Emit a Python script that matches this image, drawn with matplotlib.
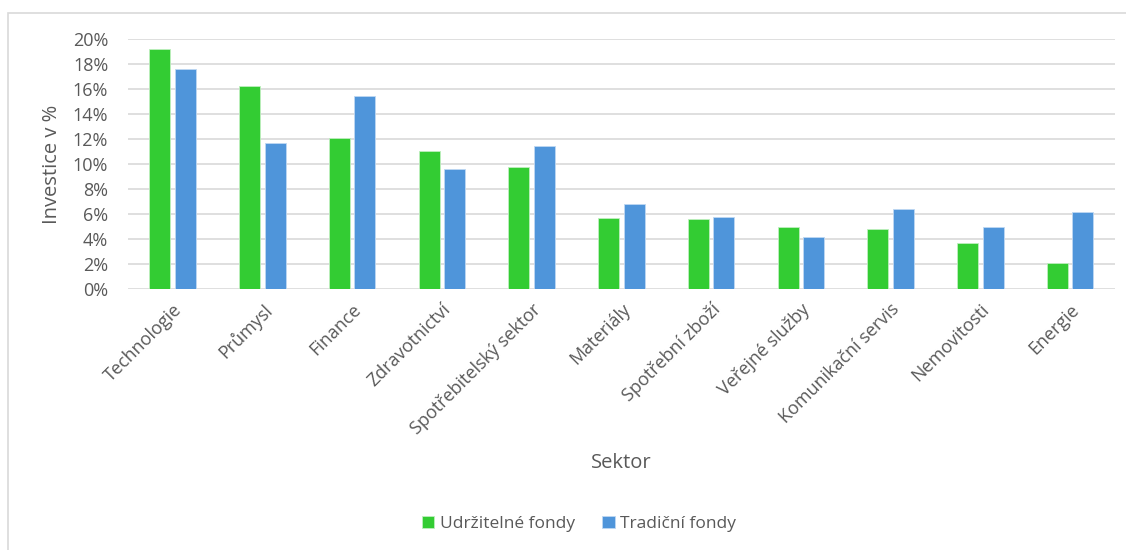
import numpy as np
import matplotlib
matplotlib.use("Agg")
import matplotlib.pyplot as plt
from matplotlib.patches import Rectangle
from matplotlib.ticker import FuncFormatter, MultipleLocator

sectors = ["Technologie", "Průmysl", "Finance", "Zdravotnictví",
           "Spotřebitelský sektor", "Materiály", "Spotřební zboží",
           "Veřejné služby", "Komunikační servis", "Nemovitosti", "Energie"]
sustainable = [19.2, 16.2, 12.1, 11.0, 9.8, 5.7, 5.6, 5.0, 4.8, 3.7, 2.1]
traditional = [17.6, 11.7, 15.4, 9.6, 11.4, 6.8, 5.8, 4.2, 6.4, 5.0, 6.2]
series_names = ["Udržitelné fondy", "Tradiční fondy"]

plt.rcParams["font.family"] = ["Open Sans", "DejaVu Sans"]
text_color = "#595959"
green = "#33CC33"
blue = "#4F95DA"
grid_color = "#D9D9D9"

fig = plt.figure(figsize=(11.26, 5.5), dpi=100)
ax = fig.add_axes([127.7 / 1126, 1 - 289.3 / 550, (1115 - 127.7) / 1126, (289.3 - 38.7) / 550])

# chart frame
fig.patches.append(Rectangle((8 / 1126, -0.05), 1.2, 1 - 13 / 550 + 0.05,
                             transform=fig.transFigure, fill=False,
                             edgecolor=grid_color, linewidth=1.2))

x = np.arange(len(sectors))
w = 0.235
off = 0.1425
ax.bar(x - off, sustainable, w, color=green, edgecolor="#BFEFBF", linewidth=0.6,
       label=series_names[0], zorder=3)
ax.bar(x + off, traditional, w, color=blue, edgecolor="#BFD8F2", linewidth=0.6,
       label=series_names[1], zorder=3)

ax.set_xlim(-0.5, len(sectors) - 0.5)
ax.set_ylim(0, 20)
ax.yaxis.set_major_locator(MultipleLocator(2))
ax.yaxis.set_major_formatter(FuncFormatter(lambda v, p: f"{v:.0f}%"))
ax.grid(axis="y", color=grid_color, linewidth=1.2, zorder=0)
for s in ax.spines.values():
    s.set_visible(False)
ax.tick_params(axis="both", length=0, colors=text_color, labelsize=13)
ax.tick_params(axis="y", pad=14)
ax.set_xticks(x)
ax.set_xticklabels(sectors, rotation=45, ha="right", rotation_mode="anchor",
                   fontsize=13, color=text_color)
ax.tick_params(axis="x", pad=8)

ax.set_ylabel("Investice v %", fontsize=14.5, color=text_color, labelpad=8)
fig.text(621 / 1126, 1 - 463 / 550, "Sektor", fontsize=14.5, color=text_color,
         ha="center", va="center")

leg = fig.legend(loc="center", bbox_to_anchor=(579 / 1126, 1 - 524 / 550),
                 ncol=2, frameon=False, fontsize=12.5, labelcolor=text_color,
                 handlelength=0.7, handleheight=0.7, handletextpad=0.3,
                 columnspacing=1.6)

fig.savefig("out.png", dpi=100)
